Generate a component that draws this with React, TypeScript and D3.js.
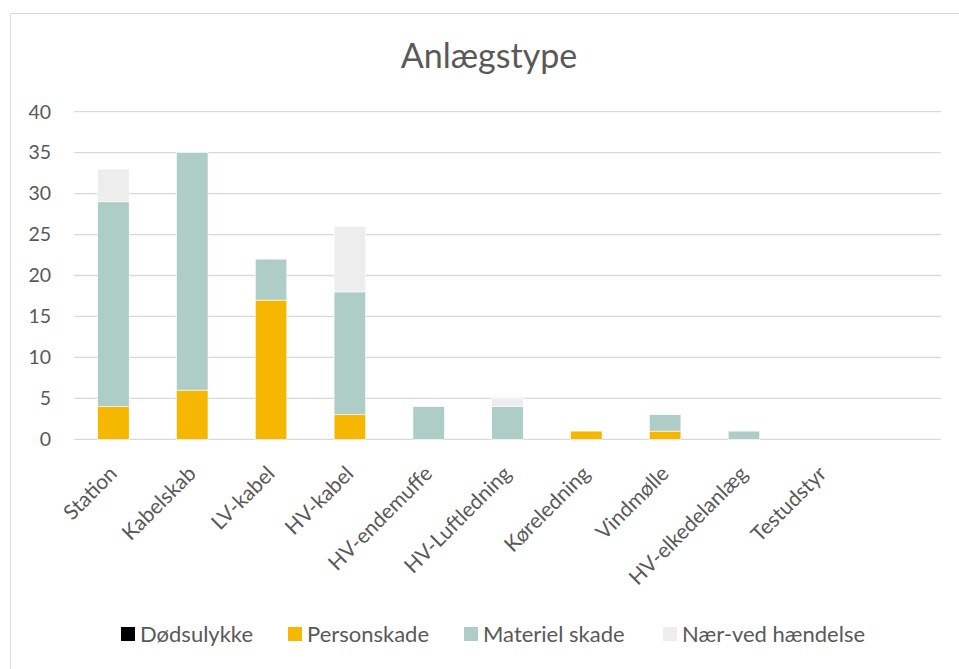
import React from "react";
import * as d3 from "d3";

const categories = ["Station", "Kabelskab", "LV-kabel", "HV-kabel", "HV-endemuffe", "HV-Luftledning", "Køreledning", "Vindmølle", "HV-elkedelanlæg", "Testudstyr", ""];
const seriesNames = ["Dødsulykke", "Personskade", "Materiel skade", "Nær-ved hændelse"];
const doedsulykke = [0, 0, 0, 0, 0, 0, 0, 0, 0, 0, 0];
const personskade = [4, 6, 17, 3, 0, 0, 1, 1, 0, 0, 0];
const materielSkade = [25, 29, 5, 15, 4, 4, 0, 2, 1, 0, 0];
const naerVed = [4, 0, 0, 8, 0, 1, 0, 0, 0, 0, 0];
const yTicks = [0, 5, 10, 15, 20, 25, 30, 35, 40];
const colors = ["#000000", "#F5B700", "#AECDC6", "#EDEDED"];
const title = "Anlægstype";

const W = 959;
const H = 669;
const FONT = "Lato, 'Open Sans', sans-serif";
const TEXT = "#595959";

export default function App() {
  const x = d3.scaleBand<string>().domain(categories).range([74, 941]).paddingInner(0.6).paddingOuter(0.3);
  const y = d3.scaleLinear().domain([0, 40]).range([439.3, 111.7]);
  const rows = categories.map((c, i) => ({
    cat: c,
    s0: doedsulykke[i],
    s1: personskade[i],
    s2: materielSkade[i],
    s3: naerVed[i],
  }));
  const keys = ["s0", "s1", "s2", "s3"];
  const stack = d3.stack<any>().keys(keys)(rows);
  const legendX = [121, 288, 464, 663];

  return (
    <svg width={W} height={H} style={{ position: "absolute", left: 0, top: 0 }} fontFamily={FONT}>
      <rect x={0} y={0} width={W} height={H} fill="#fff" />
      <rect x={10.5} y={13.5} width={W + 20} height={H + 20} fill="none" stroke="#D9D9D9" strokeWidth={1} />
      <text x={489} y={68} textAnchor="middle" fontSize={34} fill={TEXT}>{title}</text>
      {yTicks.map((t) => (
        <g key={t}>
          <line x1={74} x2={941} y1={y(t)} y2={y(t)} stroke="#D9D9D9" strokeWidth={1.3} />
          <text x={51} y={y(t)} dy="0.35em" textAnchor="end" fontSize={19.5} fill={TEXT}>{t}</text>
        </g>
      ))}
      {stack.map((layer, li) => (
        <g key={li} fill={colors[li]}>
          {layer.map((d, i) =>
            d[1] - d[0] > 0 ? (
              <rect
                key={i}
                x={x(categories[i])!}
                width={x.bandwidth()}
                y={y(d[1])}
                height={y(d[0]) - y(d[1])}
                stroke="#fff"
                strokeWidth={0.6}
              />
            ) : null
          )}
        </g>
      ))}
      {categories.map((c) =>
        c ? (
          <text
            key={c}
            transform={`translate(${x(c)! + x.bandwidth() / 2 + 5},${475}) rotate(-45)`}
            textAnchor="end"
            fontSize={21}
            fill={TEXT}
          >
            {c}
          </text>
        ) : null
      )}
      {seriesNames.map((s, i) => (
        <g key={s}>
          <rect x={legendX[i]} y={627} width={14} height={14} fill={colors[i]} />
          <text x={legendX[i] + 19} y={642} fontSize={22} fill={TEXT}>{s}</text>
        </g>
      ))}
    </svg>
  );
}
